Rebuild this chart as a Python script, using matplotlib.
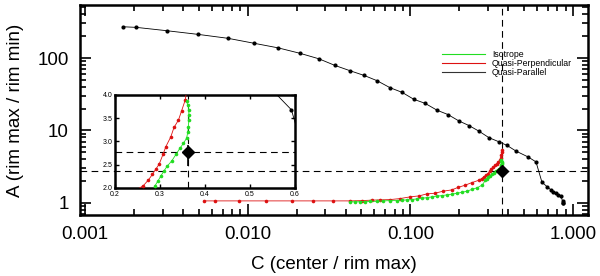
import matplotlib
matplotlib.use("Agg")
import matplotlib.pyplot as plt
from matplotlib.lines import Line2D
from matplotlib.ticker import FixedLocator, LogLocator, NullFormatter

plt.rcParams.update({
    "font.family": ["Liberation Sans", "DejaVu Sans"],
    "xtick.direction": "in",
    "ytick.direction": "in",
})

# Quasi-Parallel (black)
par_c = [0.00171, 0.00206, 0.00319, 0.00495, 0.00757, 0.0109, 0.0154, 0.0210,
         0.0274, 0.0344, 0.0426, 0.0519, 0.0624, 0.0750, 0.0888, 0.105, 0.123,
         0.146, 0.170, 0.199, 0.229, 0.264, 0.304, 0.351, 0.393, 0.446, 0.53,
         0.592, 0.644, 0.691, 0.732, 0.752, 0.785, 0.807, 0.843, 0.862, 0.868, 0.872]
par_a = [270, 265, 238, 212, 187, 160, 138, 116,
         97.5, 78.9, 66.7, 57.5, 48.6, 38.9, 33.6, 26.9, 23.7,
         19.0, 16.6, 13.5, 11.7, 9.77, 7.95, 6.96, 6.21, 5.19, 4.3,
         3.68, 1.93, 1.68, 1.51, 1.43, 1.36, 1.30, 1.25, 1.05, 1.01, 1.0]

# Quasi-Perpendicular (red)
perp_c = [0.00538, 0.00629, 0.00885, 0.0130, 0.0186, 0.0252, 0.0334,
          0.0426, 0.0502, 0.0578, 0.065, 0.075, 0.0863, 0.0995, 0.1135, 0.126,
          0.1417, 0.159, 0.1794, 0.197, 0.2166, 0.238,
          0.263, 0.274, 0.283, 0.291, 0.298, 0.307, 0.313, 0.324, 0.331, 0.341,
          0.348, 0.356, 0.361, 0.363, 0.365, 0.365]
perp_a = [1.065, 1.065, 1.065, 1.065, 1.065, 1.065, 1.065,
          1.065, 1.075, 1.09, 1.10, 1.11, 1.146, 1.21, 1.25, 1.33,
          1.36, 1.45, 1.51, 1.64, 1.75, 1.90,
          2.05, 2.17, 2.29, 2.41, 2.51, 2.73, 2.89, 3.10, 3.30, 3.46,
          3.66, 3.89, 4.2, 4.6, 5.0, 5.35]

# Isotrope (green)
iso_c = [0.0426, 0.0457, 0.0490, 0.0526, 0.0565, 0.0620, 0.0681, 0.0750, 0.0823,
         0.0883, 0.0948, 0.1018, 0.1094, 0.1175, 0.1262, 0.1355, 0.1455, 0.1563,
         0.1679, 0.1803, 0.1936, 0.208, 0.223, 0.240, 0.258, 0.277,
         0.289, 0.296, 0.302, 0.309, 0.316, 0.326, 0.336, 0.344, 0.352, 0.359,
         0.362, 0.363, 0.364, 0.364, 0.364, 0.362, 0.359]
iso_a = [1.04, 1.03, 1.04, 1.04, 1.05, 1.05, 1.065, 1.075, 1.075,
         1.09, 1.10, 1.11, 1.135, 1.16, 1.18, 1.21, 1.24, 1.26,
         1.29, 1.32, 1.36, 1.40, 1.45, 1.54, 1.62, 1.77,
         2.05, 2.16, 2.26, 2.37, 2.47, 2.58, 2.73, 2.85, 2.96, 3.07,
         3.21, 3.32, 3.46, 3.57, 3.68, 3.78, 3.86]

obs_c = 0.365
obs_a = 2.77
obs_err = [[0.3], [0.15]]

green = "#22dd22"
red = "#dd1111"

fig = plt.figure(figsize=(6, 2.76), dpi=100)
ax = fig.add_axes([0.1333, 0.221, 0.8467, 0.761])

ax.plot(perp_c, perp_a, "-o", color=red, lw=0.6, ms=2.6, mec="none", zorder=3)
ax.plot(iso_c, iso_a, "-o", color=green, lw=0.6, ms=2.6, mec="none", zorder=4)
ax.plot(par_c, par_a, "-o", color="black", lw=0.6, ms=3.0, mec="none", zorder=5)
ax.axvline(obs_c, color="black", ls=(0, (6, 4)), lw=0.8, zorder=2)
ax.axhline(obs_a, color="black", ls=(0, (6, 4)), lw=0.8, zorder=2)
ax.errorbar([obs_c], [obs_a], yerr=obs_err, fmt="D", color="black", ms=6,
            elinewidth=1.2, capsize=0, zorder=6)

ax.set_xscale("log")
ax.set_yscale("log")
ax.set_xlim(0.00093, 1.236)
ax.set_ylim(0.68, 540)
ax.xaxis.set_major_locator(FixedLocator([0.001, 0.01, 0.1, 1.0]))
ax.set_xticklabels(["0.001", "0.010", "0.100", "1.000"])
ax.xaxis.set_minor_locator(LogLocator(base=10, subs=range(2, 10)))
ax.xaxis.set_minor_formatter(NullFormatter())
ax.yaxis.set_major_locator(FixedLocator([1, 10, 100]))
ax.set_yticklabels(["1", "10", "100"])
ax.yaxis.set_minor_locator(LogLocator(base=10, subs=range(2, 10)))
ax.yaxis.set_minor_formatter(NullFormatter())
ax.tick_params(which="both", top=True, right=True, labelsize=13.5, width=1.2)
ax.tick_params(which="major", length=8, pad=8)
ax.tick_params(which="minor", length=4)
for s in ax.spines.values():
    s.set_linewidth(1.8)
ax.set_xlabel("C (center / rim max)", fontsize=13.5, labelpad=9)
ax.set_ylabel("A (rim max / rim min)", fontsize=13.5, labelpad=10)

handles = [Line2D([], [], color=green, lw=0.8),
           Line2D([], [], color=red, lw=0.8),
           Line2D([], [], color="#333333", lw=0.8)]
leg = ax.legend(handles, ["Isotrope", "Quasi-Perpendicular", "Quasi-Parallel"],
                loc="upper left", bbox_to_anchor=(0.713, 0.785), frameon=False,
                fontsize=6.3, handlelength=4.9, handletextpad=0.8,
                labelspacing=0.0, borderpad=0, borderaxespad=0)

# inset zoom on the peak
axi = fig.add_axes([0.1917, 0.319, 0.3, 0.337])
axi.set_facecolor("none")
axi.plot(perp_c, perp_a, "-o", color=red, lw=0.6, ms=2.6, mec="none", zorder=3)
axi.plot(iso_c, iso_a, "-o", color=green, lw=0.6, ms=2.6, mec="none", zorder=4)
axi.plot(par_c, par_a, "-o", color="black", lw=0.6, ms=3.0, mec="none", zorder=5)
axi.axvline(0.362, color="black", ls=(0, (6, 4)), lw=0.8, zorder=2)
axi.axhline(obs_a, color="black", ls=(0, (6, 4)), lw=0.8, zorder=2)
axi.errorbar([0.362], [obs_a], yerr=obs_err, fmt="D", color="black", ms=6,
             elinewidth=1.2, capsize=0, zorder=6)
axi.set_xlim(0.2, 0.6)
axi.set_ylim(2.0, 4.0)
axi.set_xticks([0.2, 0.3, 0.4, 0.5, 0.6])
axi.set_yticks([2.0, 2.5, 3.0, 3.5, 4.0])
axi.tick_params(which="both", top=True, right=True, labelsize=5, length=3,
                width=1)
axi.tick_params(axis="x", pad=2.5)
axi.tick_params(axis="y", pad=1.5)
for s in axi.spines.values():
    s.set_linewidth(1.8)

fig.savefig("out.png", dpi=100)
